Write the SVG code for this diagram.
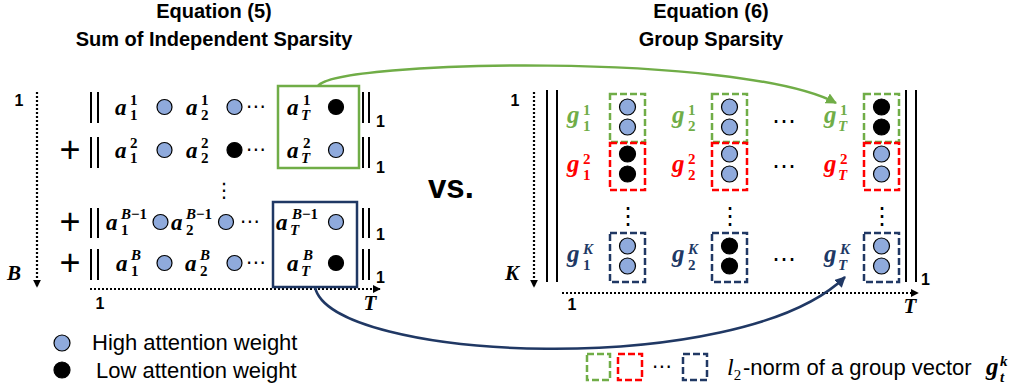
<svg xmlns="http://www.w3.org/2000/svg" width="1016" height="390" viewBox="0 0 1016 390">
  <style>
    .title { font-family: "Liberation Sans", Arial, sans-serif; font-weight: bold; font-size: 20px; fill: #000; text-anchor: middle; }
    .lbl { font-family: "Liberation Sans", Arial, sans-serif; font-weight: bold; font-size: 16px; fill: #000; }
    .axis { font-family: "Liberation Serif", serif; font-weight: bold; font-style: italic; font-size: 21px; fill: #000; text-anchor: middle; }
    .mv { font-family: "Liberation Serif", serif; font-weight: bold; font-style: italic; font-size: 23px; }
    .gv { font-family: "Liberation Serif", serif; font-weight: bold; font-style: italic; font-size: 25px; }
    .sd { font-family: "Liberation Serif", serif; font-weight: bold; font-style: normal; font-size: 15px; }
    .si { font-family: "Liberation Serif", serif; font-weight: bold; font-style: italic; font-size: 15px; }
    .dots { font-family: "DejaVu Sans", sans-serif; font-size: 20px; fill: #000; text-anchor: middle; }
    .dotsR { font-family: "DejaVu Sans", sans-serif; font-size: 24px; fill: #000; text-anchor: middle; }
    .plus { font-family: "Liberation Sans", Arial, sans-serif; font-size: 36px; fill: #000; text-anchor: middle; }
    .leg { font-family: "Liberation Sans", Arial, sans-serif; font-size: 22px; fill: #000; }
    .hi { fill: #8FAADC; stroke: #000; stroke-width: 1.2; }
    .lo { fill: #000; stroke: #000; stroke-width: 1.2; }
    .bar { stroke: #000; stroke-width: 2; }
    .dotted { stroke: #000; stroke-width: 2.2; stroke-dasharray: 2 2; fill: none; }
    .grpG { fill: none; stroke: #70AD47; stroke-width: 2.5; stroke-dasharray: 7 3; }
    .grpR { fill: none; stroke: #FF0000; stroke-width: 2.5; stroke-dasharray: 7 3; }
    .grpB { fill: none; stroke: #203864; stroke-width: 2.5; stroke-dasharray: 7 3; }
    .cG { fill: #70AD47; }
    .cR { fill: #FF0000; }
    .cB { fill: #203864; }
  </style>
  <defs>
    <marker id="ahK" viewBox="0 0 10 10" refX="9" refY="5" markerWidth="8" markerHeight="8" markerUnits="userSpaceOnUse" orient="auto">
      <path d="M0,0 L10,5 L0,10 z" fill="#000"/>
    </marker>
    <marker id="ahG" viewBox="0 0 10 10" refX="9" refY="5" markerWidth="11" markerHeight="11" markerUnits="userSpaceOnUse" orient="auto">
      <path d="M0,0 L10,5 L0,10 z" fill="#70AD47"/>
    </marker>
    <marker id="ahB" viewBox="0 0 10 10" refX="9" refY="5" markerWidth="11" markerHeight="11" markerUnits="userSpaceOnUse" orient="auto">
      <path d="M0,0 L10,5 L0,10 z" fill="#203864"/>
    </marker>
  </defs>

  <rect width="1016" height="390" fill="#fff"/>

  <!-- Titles -->
  <g id="title-eq5">
    <text class="title" x="214" y="18">Equation (5)</text>
    <text class="title" x="214" y="46">Sum of Independent Sparsity</text>
  </g>
  <g id="title-eq6">
    <text class="title" x="711" y="18">Equation (6)</text>
    <text class="title" x="711" y="46">Group Sparsity</text>
  </g>

  <!-- Left: sum of row-wise l1 norms -->
  <g id="eq5-axes">
    <text class="lbl" x="19" y="106" text-anchor="middle">1</text>
    <line class="dotted" x1="37" y1="92" x2="37" y2="287" marker-end="url(#ahK)"/>
    <text class="axis" x="14" y="280">B</text>
    <line class="dotted" x1="90" y1="289" x2="380" y2="289" marker-end="url(#ahK)"/>
    <text class="lbl" x="100" y="309" text-anchor="middle">1</text>
    <text class="axis" x="370" y="310">T</text>
  </g>

  <g id="eq5-row1">
    <line class="bar" x1="91" y1="92" x2="91" y2="123"/><line class="bar" x1="98" y1="92" x2="98" y2="123"/>
    <text class="mv" x="115" y="115">a<tspan class="sd" x="130" y="105">1</tspan><tspan class="sd" x="130" y="120">1</tspan></text>
    <circle class="hi" cx="164.5" cy="107" r="7.5"/>
    <text class="mv" x="186" y="115">a<tspan class="sd" x="201" y="105">1</tspan><tspan class="sd" x="201" y="120">2</tspan></text>
    <circle class="hi" cx="234.5" cy="107" r="7.5"/>
    <text class="dots" x="256" y="113">⋯</text>
    <text class="mv" x="287" y="115">a<tspan class="sd" x="303" y="105">1</tspan><tspan class="si" x="301" y="120">T</tspan></text>
    <circle class="lo" cx="336" cy="107" r="7.5"/>
    <line class="bar" x1="363" y1="92" x2="363" y2="123"/><line class="bar" x1="369" y1="92" x2="369" y2="123"/>
    <text class="lbl" x="376" y="127">1</text>
  </g>

  <g id="eq5-row2">
    <text class="plus" x="70" y="162">+</text>
    <line class="bar" x1="91" y1="137" x2="91" y2="168"/><line class="bar" x1="98" y1="137" x2="98" y2="168"/>
    <text class="mv" x="115" y="158">a<tspan class="sd" x="130" y="148">2</tspan><tspan class="sd" x="130" y="163">1</tspan></text>
    <circle class="hi" cx="164.5" cy="150" r="7.5"/>
    <text class="mv" x="186" y="158">a<tspan class="sd" x="201" y="148">2</tspan><tspan class="sd" x="201" y="163">2</tspan></text>
    <circle class="lo" cx="234.5" cy="150" r="7.5"/>
    <text class="dots" x="256" y="156">⋯</text>
    <text class="mv" x="287" y="158">a<tspan class="sd" x="303" y="148">2</tspan><tspan class="si" x="301" y="163">T</tspan></text>
    <circle class="hi" cx="336" cy="150" r="7.5"/>
    <line class="bar" x1="363" y1="137" x2="363" y2="168"/><line class="bar" x1="369" y1="137" x2="369" y2="168"/>
    <text class="lbl" x="376" y="173">1</text>
  </g>

  <text class="dots" x="224" y="197">⋮</text>

  <g id="eq5-row3">
    <text class="plus" x="70" y="234">+</text>
    <line class="bar" x1="91" y1="208" x2="91" y2="238"/><line class="bar" x1="98" y1="208" x2="98" y2="238"/>
    <text class="mv" x="106" y="230">a<tspan class="si" x="121" y="219">B</tspan><tspan class="sd">−1</tspan><tspan class="sd" x="121" y="235">1</tspan></text>
    <circle class="hi" cx="160.5" cy="222" r="7.5"/>
    <text class="mv" x="171" y="230">a<tspan class="si" x="186" y="219">B</tspan><tspan class="sd">−1</tspan><tspan class="sd" x="186" y="235">2</tspan></text>
    <circle class="hi" cx="226" cy="222" r="7.5"/>
    <text class="dots" x="250" y="228">⋯</text>
    <text class="mv" x="276" y="230">a<tspan class="si" x="292" y="219">B</tspan><tspan class="sd">−1</tspan><tspan class="si" x="290" y="235">T</tspan></text>
    <circle class="hi" cx="336" cy="222" r="7.5"/>
    <line class="bar" x1="363" y1="208" x2="363" y2="238"/><line class="bar" x1="369" y1="208" x2="369" y2="238"/>
    <text class="lbl" x="376" y="240">1</text>
  </g>

  <g id="eq5-row4">
    <text class="plus" x="70" y="275">+</text>
    <line class="bar" x1="91" y1="249" x2="91" y2="280"/><line class="bar" x1="98" y1="249" x2="98" y2="280"/>
    <text class="mv" x="116" y="271">a<tspan class="si" x="131" y="260">B</tspan><tspan class="sd" x="131" y="276">1</tspan></text>
    <circle class="hi" cx="164.5" cy="263" r="7.5"/>
    <text class="mv" x="185" y="271">a<tspan class="si" x="200" y="260">B</tspan><tspan class="sd" x="200" y="276">2</tspan></text>
    <circle class="hi" cx="234.5" cy="263" r="7.5"/>
    <text class="dots" x="256" y="269">⋯</text>
    <text class="mv" x="287" y="271">a<tspan class="si" x="303" y="260">B</tspan><tspan class="si" x="301" y="276">T</tspan></text>
    <circle class="lo" cx="336" cy="263" r="7.5"/>
    <line class="bar" x1="363" y1="249" x2="363" y2="280"/><line class="bar" x1="369" y1="249" x2="369" y2="280"/>
    <text class="lbl" x="376" y="283">1</text>
  </g>

  <!-- Column groups highlighted on the left -->
  <g id="eq5-group-first">
    <rect x="278" y="86" width="81" height="82" fill="none" stroke="#70AD47" stroke-width="2.5"/>
  </g>
  <g id="eq5-group-last">
    <rect x="273" y="202" width="84" height="85" fill="none" stroke="#203864" stroke-width="2.5"/>
  </g>

  <g id="versus">
    <text x="428" y="198" font-family="Liberation Sans, Arial, sans-serif" font-weight="bold" font-size="33">vs.</text>
  </g>

  <!-- Right: group l2 norms -->
  <g id="eq6-axes">
    <text class="lbl" x="515" y="106" text-anchor="middle">1</text>
    <line class="dotted" x1="534" y1="92" x2="534" y2="287" marker-end="url(#ahK)"/>
    <text class="axis" x="512" y="280">K</text>
    <line class="dotted" x1="562" y1="293" x2="918" y2="293" marker-end="url(#ahK)"/>
    <text class="lbl" x="572" y="310" text-anchor="middle">1</text>
    <text class="axis" x="910" y="313">T</text>
    <line class="bar" x1="547" y1="90" x2="547" y2="282"/><line class="bar" x1="557" y1="90" x2="557" y2="282"/>
    <line class="bar" x1="906" y1="90" x2="906" y2="282"/><line class="bar" x1="916" y1="90" x2="916" y2="282"/>
    <text class="lbl" x="921" y="285">1</text>
  </g>

  <g id="eq6-row1">
    <text class="gv cG" x="567" y="123">g<tspan class="sd" x="583" y="115">1</tspan><tspan class="sd" x="583" y="131">1</tspan></text>
    <rect class="grpG" x="610" y="94" width="35" height="48"/>
    <circle class="hi" cx="627.5" cy="107" r="8"/><circle class="hi" cx="627.5" cy="127" r="8"/>
    <text class="gv cG" x="672" y="123">g<tspan class="sd" x="688" y="115">1</tspan><tspan class="sd" x="688" y="131">2</tspan></text>
    <rect class="grpG" x="712" y="94" width="35" height="48"/>
    <circle class="hi" cx="729.5" cy="107" r="8"/><circle class="hi" cx="729.5" cy="127" r="8"/>
    <text class="dotsR" x="784" y="129">⋯</text>
    <text class="gv cG" x="824" y="123">g<tspan class="sd" x="840" y="115">1</tspan><tspan class="si" x="838" y="131">T</tspan></text>
    <rect class="grpG" x="864" y="94" width="35" height="48"/>
    <circle class="lo" cx="881.5" cy="107" r="8"/><circle class="lo" cx="881.5" cy="127" r="8"/>
  </g>

  <g id="eq6-row2">
    <text class="gv cR" x="567" y="172">g<tspan class="sd" x="583" y="164">2</tspan><tspan class="sd" x="583" y="180">1</tspan></text>
    <rect class="grpR" x="610" y="143" width="35" height="47"/>
    <circle class="lo" cx="627.5" cy="154" r="8"/><circle class="lo" cx="627.5" cy="174" r="8"/>
    <text class="gv cR" x="672" y="172">g<tspan class="sd" x="688" y="164">2</tspan><tspan class="sd" x="688" y="180">2</tspan></text>
    <rect class="grpR" x="712" y="143" width="35" height="47"/>
    <circle class="hi" cx="729.5" cy="154" r="8"/><circle class="hi" cx="729.5" cy="174" r="8"/>
    <text class="dotsR" x="784" y="174">⋯</text>
    <text class="gv cR" x="824" y="172">g<tspan class="sd" x="840" y="164">2</tspan><tspan class="si" x="838" y="180">T</tspan></text>
    <rect class="grpR" x="864" y="143" width="35" height="47"/>
    <circle class="hi" cx="881.5" cy="154" r="8"/><circle class="hi" cx="881.5" cy="174" r="8"/>
  </g>

  <g id="eq6-vdots">
    <text class="dotsR" x="628" y="224">⋮</text>
    <text class="dotsR" x="730" y="224">⋮</text>
    <text class="dotsR" x="882" y="224">⋮</text>
  </g>

  <g id="eq6-rowK">
    <text class="gv cB" x="567" y="262">g<tspan class="si" x="583" y="254">K</tspan><tspan class="sd" x="583" y="270">1</tspan></text>
    <rect class="grpB" x="610" y="233" width="35" height="49"/>
    <circle class="hi" cx="627.5" cy="246" r="8"/><circle class="hi" cx="627.5" cy="266" r="8"/>
    <text class="gv cB" x="672" y="262">g<tspan class="si" x="688" y="254">K</tspan><tspan class="sd" x="688" y="270">2</tspan></text>
    <rect class="grpB" x="712" y="233" width="35" height="49"/>
    <circle class="lo" cx="729.5" cy="246" r="8"/><circle class="lo" cx="729.5" cy="266" r="8"/>
    <text class="dotsR" x="784" y="267">⋯</text>
    <text class="gv cB" x="824" y="262">g<tspan class="si" x="840" y="254">K</tspan><tspan class="si" x="838" y="270">T</tspan></text>
    <rect class="grpB" x="864" y="233" width="35" height="49"/>
    <circle class="hi" cx="881.5" cy="246" r="8"/><circle class="hi" cx="881.5" cy="266" r="8"/>
  </g>

  <!-- Connectors from the highlighted column entries to the group vectors -->
  <g id="connectors" fill="none" stroke-width="2.5">
    <path d="M318,86 C335,60 740,52 836,103" stroke="#70AD47" marker-end="url(#ahG)"/>
    <path d="M315,287 C330,362 740,380 845,277" stroke="#203864" marker-end="url(#ahB)"/>
  </g>

  <!-- Legends -->
  <g id="legend-weights">
    <circle class="hi" cx="62" cy="343" r="8"/>
    <text class="leg" x="92" y="350">High attention weight</text>
    <circle class="lo" cx="62" cy="370" r="8"/>
    <text class="leg" x="96" y="378">Low attention weight</text>
  </g>
  <g id="legend-groups">
    <rect class="grpG" x="587" y="354" width="23" height="26" stroke-width="2"/>
    <rect class="grpR" x="618" y="354" width="24" height="26" stroke-width="2"/>
    <text class="dots" x="662" y="373">⋯</text>
    <rect class="grpB" x="683" y="354" width="24" height="26" stroke-width="2"/>
    <text x="727" y="375" font-family="Liberation Serif, serif" font-style="italic" font-size="24">l<tspan font-style="normal" font-size="15" y="380">2</tspan></text>
    <text class="leg" x="743" y="375">-norm of a group vector</text>
    <text class="gv" x="986" y="375">g<tspan class="si" x="1000" y="366">k</tspan><tspan class="si" x="1000" y="382">t</tspan></text>
  </g>
</svg>
